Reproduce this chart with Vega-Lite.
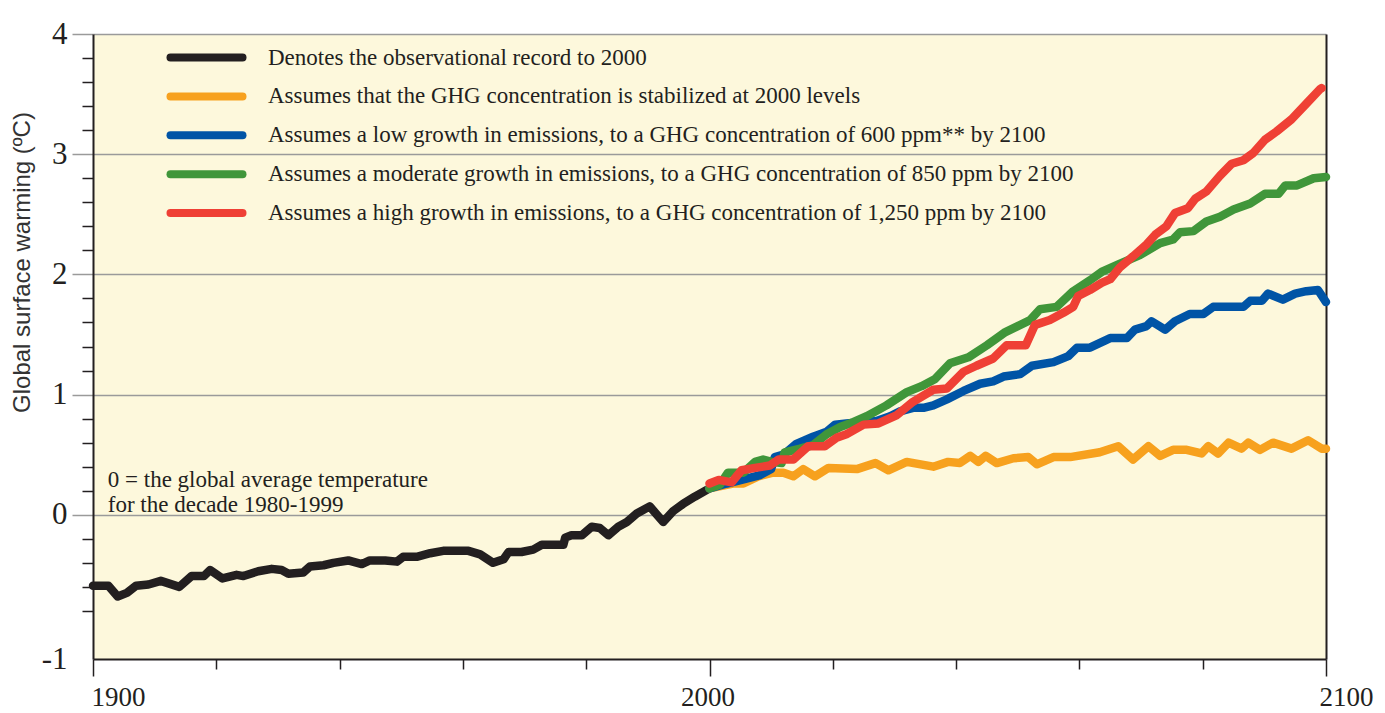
{
  "$schema": "https://vega.github.io/schema/vega-lite/v6.json",
  "width": 1233,
  "height": 625,
  "autosize": "none",
  "padding": {"left": 93, "top": 34, "right": 59, "bottom": 54},
  "background": "white",
  "config": {"view": {"fill": "#fdf8dc", "stroke": null}, "font": "Liberation Serif"},
  "datasets": {
    "labels": [
      {"s": "obs", "label": "Denotes the observational record to 2000"},
      {"s": "stab", "label": "Assumes that the GHG concentration is stabilized at 2000 levels"},
      {"s": "low", "label": "Assumes a low growth in emissions, to a GHG concentration of 600 ppm** by 2100"},
      {"s": "mod", "label": "Assumes a moderate growth in emissions, to a GHG concentration of 850 ppm by 2100"},
      {"s": "high", "label": "Assumes a high growth in emissions, to a GHG concentration of 1,250 ppm by 2100"}
    ],
    "notes": [
      {"note": "0 = the global average temperature", "year": 1902.4, "value": 0.235},
      {"note": "for the decade 1980-1999", "year": 1902.4, "value": 0.027}
    ],
    "warming": [
      {"s":"obs","year":1900,"value":-0.59},{"s":"obs","year":1902.5,"value":-0.59},{"s":"obs","year":1904,"value":-0.68},{"s":"obs","year":1905.5,"value":-0.65},{"s":"obs","year":1907,"value":-0.59},{"s":"obs","year":1909,"value":-0.58},{"s":"obs","year":1911,"value":-0.55},{"s":"obs","year":1914,"value":-0.6},{"s":"obs","year":1916,"value":-0.51},{"s":"obs","year":1918,"value":-0.51},{"s":"obs","year":1919,"value":-0.46},{"s":"obs","year":1921,"value":-0.53},{"s":"obs","year":1923.3,"value":-0.5},{"s":"obs","year":1924.4,"value":-0.51},{"s":"obs","year":1926.8,"value":-0.47},{"s":"obs","year":1929,"value":-0.45},{"s":"obs","year":1930.6,"value":-0.46},{"s":"obs","year":1931.7,"value":-0.49},{"s":"obs","year":1934.1,"value":-0.48},{"s":"obs","year":1935.2,"value":-0.43},{"s":"obs","year":1937.4,"value":-0.42},{"s":"obs","year":1939,"value":-0.4},{"s":"obs","year":1941.4,"value":-0.38},{"s":"obs","year":1943.6,"value":-0.41},{"s":"obs","year":1944.9,"value":-0.38},{"s":"obs","year":1947.4,"value":-0.38},{"s":"obs","year":1949.3,"value":-0.39},{"s":"obs","year":1950.3,"value":-0.35},{"s":"obs","year":1952.5,"value":-0.35},{"s":"obs","year":1954.7,"value":-0.32},{"s":"obs","year":1956.8,"value":-0.3},{"s":"obs","year":1960.9,"value":-0.3},{"s":"obs","year":1962.8,"value":-0.33},{"s":"obs","year":1964.9,"value":-0.4},{"s":"obs","year":1966.6,"value":-0.37},{"s":"obs","year":1967.4,"value":-0.31},{"s":"obs","year":1969.5,"value":-0.31},{"s":"obs","year":1971.4,"value":-0.29},{"s":"obs","year":1972.8,"value":-0.25},{"s":"obs","year":1976.3,"value":-0.25},{"s":"obs","year":1976.6,"value":-0.19},{"s":"obs","year":1977.6,"value":-0.17},{"s":"obs","year":1979.3,"value":-0.17},{"s":"obs","year":1980.9,"value":-0.1},{"s":"obs","year":1982.2,"value":-0.11},{"s":"obs","year":1983.6,"value":-0.17},{"s":"obs","year":1985.2,"value":-0.1},{"s":"obs","year":1986.6,"value":-0.06},{"s":"obs","year":1988.2,"value":0.01},{"s":"obs","year":1990.3,"value":0.07},{"s":"obs","year":1992.5,"value":-0.06},{"s":"obs","year":1994.1,"value":0.03},{"s":"obs","year":1995.7,"value":0.09},{"s":"obs","year":1997.6,"value":0.15},{"s":"obs","year":2000,"value":0.22},
      {"s":"stab","year":2000,"value":0.22},{"s":"stab","year":2003.8,"value":0.26},{"s":"stab","year":2005.5,"value":0.26},{"s":"stab","year":2007.9,"value":0.32},{"s":"stab","year":2010.3,"value":0.35},{"s":"stab","year":2012,"value":0.35},{"s":"stab","year":2013.6,"value":0.32},{"s":"stab","year":2015.2,"value":0.38},{"s":"stab","year":2017.1,"value":0.32},{"s":"stab","year":2019.3,"value":0.39},{"s":"stab","year":2023.9,"value":0.38},{"s":"stab","year":2026.9,"value":0.43},{"s":"stab","year":2029,"value":0.37},{"s":"stab","year":2032,"value":0.44},{"s":"stab","year":2036.3,"value":0.4},{"s":"stab","year":2038.7,"value":0.44},{"s":"stab","year":2040.6,"value":0.43},{"s":"stab","year":2042.3,"value":0.49},{"s":"stab","year":2043.6,"value":0.44},{"s":"stab","year":2044.8,"value":0.49},{"s":"stab","year":2046.6,"value":0.43},{"s":"stab","year":2049.3,"value":0.47},{"s":"stab","year":2051.7,"value":0.48},{"s":"stab","year":2053.1,"value":0.42},{"s":"stab","year":2055.8,"value":0.48},{"s":"stab","year":2058.5,"value":0.48},{"s":"stab","year":2063.3,"value":0.52},{"s":"stab","year":2066.3,"value":0.57},{"s":"stab","year":2068.7,"value":0.46},{"s":"stab","year":2071.2,"value":0.57},{"s":"stab","year":2073.1,"value":0.49},{"s":"stab","year":2075.2,"value":0.54},{"s":"stab","year":2077.4,"value":0.54},{"s":"stab","year":2079.8,"value":0.51},{"s":"stab","year":2080.9,"value":0.57},{"s":"stab","year":2082.5,"value":0.51},{"s":"stab","year":2084.2,"value":0.6},{"s":"stab","year":2086.3,"value":0.55},{"s":"stab","year":2087.4,"value":0.6},{"s":"stab","year":2089.3,"value":0.54},{"s":"stab","year":2091.4,"value":0.6},{"s":"stab","year":2094.4,"value":0.55},{"s":"stab","year":2097.1,"value":0.62},{"s":"stab","year":2099.3,"value":0.55},{"s":"stab","year":2100,"value":0.55},
      {"s":"low","year":2000,"value":0.22},{"s":"low","year":2002.8,"value":0.26},{"s":"low","year":2006,"value":0.3},{"s":"low","year":2008.2,"value":0.33},{"s":"low","year":2010,"value":0.38},{"s":"low","year":2010.6,"value":0.48},{"s":"low","year":2012,"value":0.5},{"s":"low","year":2014.1,"value":0.59},{"s":"low","year":2016.8,"value":0.65},{"s":"low","year":2019,"value":0.69},{"s":"low","year":2020.4,"value":0.75},{"s":"low","year":2022.2,"value":0.76},{"s":"low","year":2024.4,"value":0.77},{"s":"low","year":2027.1,"value":0.78},{"s":"low","year":2029.3,"value":0.82},{"s":"low","year":2030.9,"value":0.86},{"s":"low","year":2033,"value":0.89},{"s":"low","year":2034.7,"value":0.89},{"s":"low","year":2036.3,"value":0.91},{"s":"low","year":2038.5,"value":0.96},{"s":"low","year":2041.2,"value":1.03},{"s":"low","year":2043.9,"value":1.09},{"s":"low","year":2046,"value":1.11},{"s":"low","year":2047.7,"value":1.15},{"s":"low","year":2050.4,"value":1.17},{"s":"low","year":2052.3,"value":1.24},{"s":"low","year":2055.8,"value":1.27},{"s":"low","year":2058.2,"value":1.32},{"s":"low","year":2059.6,"value":1.39},{"s":"low","year":2061.7,"value":1.39},{"s":"low","year":2065,"value":1.47},{"s":"low","year":2067.7,"value":1.47},{"s":"low","year":2069,"value":1.54},{"s":"low","year":2070.9,"value":1.57},{"s":"low","year":2071.7,"value":1.61},{"s":"low","year":2073.9,"value":1.54},{"s":"low","year":2075.5,"value":1.61},{"s":"low","year":2077.9,"value":1.67},{"s":"low","year":2080.1,"value":1.67},{"s":"low","year":2081.7,"value":1.73},{"s":"low","year":2086.6,"value":1.73},{"s":"low","year":2087.7,"value":1.78},{"s":"low","year":2089.6,"value":1.78},{"s":"low","year":2090.6,"value":1.84},{"s":"low","year":2093,"value":1.79},{"s":"low","year":2095,"value":1.84},{"s":"low","year":2096.8,"value":1.86},{"s":"low","year":2098.7,"value":1.87},{"s":"low","year":2100,"value":1.77},
      {"s":"mod","year":2000,"value":0.22},{"s":"mod","year":2001.7,"value":0.25},{"s":"mod","year":2003,"value":0.35},{"s":"mod","year":2005.5,"value":0.35},{"s":"mod","year":2007.4,"value":0.44},{"s":"mod","year":2008.7,"value":0.46},{"s":"mod","year":2010.1,"value":0.44},{"s":"mod","year":2011.7,"value":0.43},{"s":"mod","year":2012.2,"value":0.52},{"s":"mod","year":2014.7,"value":0.55},{"s":"mod","year":2016.8,"value":0.58},{"s":"mod","year":2019,"value":0.67},{"s":"mod","year":2021.2,"value":0.73},{"s":"mod","year":2023.3,"value":0.77},{"s":"mod","year":2025.5,"value":0.82},{"s":"mod","year":2028.7,"value":0.91},{"s":"mod","year":2032,"value":1.02},{"s":"mod","year":2034.4,"value":1.07},{"s":"mod","year":2036.6,"value":1.13},{"s":"mod","year":2039,"value":1.26},{"s":"mod","year":2042,"value":1.31},{"s":"mod","year":2045,"value":1.41},{"s":"mod","year":2048,"value":1.52},{"s":"mod","year":2050,"value":1.57},{"s":"mod","year":2052,"value":1.62},{"s":"mod","year":2053.6,"value":1.71},{"s":"mod","year":2056.3,"value":1.73},{"s":"mod","year":2059,"value":1.86},{"s":"mod","year":2061.7,"value":1.95},{"s":"mod","year":2063.6,"value":2.02},{"s":"mod","year":2066.6,"value":2.09},{"s":"mod","year":2069.8,"value":2.16},{"s":"mod","year":2073.1,"value":2.26},{"s":"mod","year":2075.2,"value":2.29},{"s":"mod","year":2076.3,"value":2.35},{"s":"mod","year":2078.5,"value":2.36},{"s":"mod","year":2080.6,"value":2.44},{"s":"mod","year":2082.8,"value":2.48},{"s":"mod","year":2085,"value":2.54},{"s":"mod","year":2087.7,"value":2.59},{"s":"mod","year":2090.1,"value":2.67},{"s":"mod","year":2092.3,"value":2.67},{"s":"mod","year":2093.4,"value":2.74},{"s":"mod","year":2095.3,"value":2.74},{"s":"mod","year":2098,"value":2.8},{"s":"mod","year":2100,"value":2.81},
      {"s":"high","year":2000,"value":0.26},{"s":"high","year":2001.5,"value":0.29},{"s":"high","year":2003.6,"value":0.27},{"s":"high","year":2005.2,"value":0.37},{"s":"high","year":2007.4,"value":0.39},{"s":"high","year":2009.8,"value":0.41},{"s":"high","year":2011.2,"value":0.46},{"s":"high","year":2013.6,"value":0.46},{"s":"high","year":2016,"value":0.57},{"s":"high","year":2018.7,"value":0.57},{"s":"high","year":2020.6,"value":0.64},{"s":"high","year":2022.2,"value":0.67},{"s":"high","year":2025,"value":0.75},{"s":"high","year":2027.4,"value":0.76},{"s":"high","year":2030.4,"value":0.83},{"s":"high","year":2033,"value":0.94},{"s":"high","year":2036.3,"value":1.04},{"s":"high","year":2038.5,"value":1.05},{"s":"high","year":2041.2,"value":1.19},{"s":"high","year":2043.3,"value":1.24},{"s":"high","year":2046,"value":1.3},{"s":"high","year":2048.2,"value":1.41},{"s":"high","year":2051.3,"value":1.41},{"s":"high","year":2052.8,"value":1.58},{"s":"high","year":2055.2,"value":1.62},{"s":"high","year":2057.4,"value":1.68},{"s":"high","year":2059,"value":1.73},{"s":"high","year":2059.8,"value":1.82},{"s":"high","year":2061.7,"value":1.87},{"s":"high","year":2063.6,"value":1.93},{"s":"high","year":2065,"value":1.96},{"s":"high","year":2066.6,"value":2.06},{"s":"high","year":2068.7,"value":2.15},{"s":"high","year":2070.9,"value":2.25},{"s":"high","year":2072.3,"value":2.33},{"s":"high","year":2074.1,"value":2.4},{"s":"high","year":2075.5,"value":2.51},{"s":"high","year":2077.6,"value":2.55},{"s":"high","year":2078.8,"value":2.63},{"s":"high","year":2080.6,"value":2.69},{"s":"high","year":2082.8,"value":2.82},{"s":"high","year":2084.7,"value":2.92},{"s":"high","year":2086.6,"value":2.95},{"s":"high","year":2088.2,"value":3.01},{"s":"high","year":2090.1,"value":3.12},{"s":"high","year":2092,"value":3.19},{"s":"high","year":2094.4,"value":3.29},{"s":"high","year":2096.8,"value":3.42},{"s":"high","year":2099,"value":3.54},{"s":"high","year":2099.3,"value":3.55}
    ]
  },
  "layer": [
    {
      "data": {"name": "warming"},
      "transform": [{"lookup": "s", "from": {"data": {"name": "labels"}, "key": "s", "fields": ["label"]}}],
      "mark": {"type": "line", "strokeWidth": 8.5, "strokeCap": "round", "strokeJoin": "round"},
      "encoding": {
        "x": {
          "field": "year", "type": "quantitative",
          "scale": {"domain": [1900, 2100], "nice": false, "zero": false},
          "axis": {
            "orient": "bottom", "values": [1900, 2000, 2100], "title": null, "grid": false,
            "tickSize": 17, "tickColor": "#231f20", "tickWidth": 1.5,
            "domainColor": "#231f20", "domainWidth": 2,
            "labelFont": "Liberation Serif", "labelFontSize": 27, "labelColor": "#231f20",
            "labelPadding": 8, "labelFlush": false,
            "labelAlign": {"condition": {"test": "datum.value == 2000", "value": "center"}, "value": "left"},
            "labelOffset": {"condition": {"test": "datum.value == 2100", "value": -7}, "value": -2},
            "labelExpr": "format(datum.value, 'd')"
          }
        },
        "y": {
          "field": "value", "type": "quantitative",
          "scale": {"domain": [-1.2, 4], "nice": false, "zero": false},
          "axis": {
            "orient": "left", "values": [-1.2, 0, 1, 2, 3, 4],
            "title": "Global surface warming (ºC)",
            "titleFont": "Liberation Sans", "titleFontSize": 24, "titleFontWeight": "normal", "titleColor": "#333333",
            "titleX": -71, "titleY": 228, "titleAngle": -90, "titleAlign": "center", "titleBaseline": "middle",
            "grid": true, "gridColor": "#9a9a9a", "gridWidth": 1.5,
            "gridOpacity": {"condition": {"test": "datum.value < -1", "value": 0}, "value": 1},
            "tickSize": 21, "tickColor": "#9a9a9a", "tickWidth": 1.5,
            "tickOpacity": {"condition": {"test": "datum.value < -1", "value": 0}, "value": 1},
            "domain": false,
            "labelFont": "Liberation Serif", "labelFontSize": 31, "labelColor": "#231f20", "labelPadding": 5,
            "labelExpr": "datum.value < -1 ? '-1' : format(datum.value, 'd')"
          }
        },
        "color": {
          "field": "label", "type": "nominal",
          "scale": {
            "domain": [
              "Denotes the observational record to 2000",
              "Assumes that the GHG concentration is stabilized at 2000 levels",
              "Assumes a low growth in emissions, to a GHG concentration of 600 ppm** by 2100",
              "Assumes a moderate growth in emissions, to a GHG concentration of 850 ppm by 2100",
              "Assumes a high growth in emissions, to a GHG concentration of 1,250 ppm by 2100"
            ],
            "range": ["#231f20", "#f7a11e", "#0054a6", "#40963a", "#ef4035"]
          },
          "legend": {
            "title": null, "orient": "none", "legendX": 102, "legendY": 12, "padding": 0,
            "symbolType": "M-7.2,0H7.2", "symbolSize": 100, "symbolStrokeWidth": 8,
            "labelFont": "Liberation Serif", "labelFontSize": 23, "labelColor": "#231f20",
            "labelOffset": 50, "labelLimit": 1200, "rowPadding": 5.9,
            "encode": {"symbols": {"update": {"strokeCap": {"value": "round"}}}}
          }
        }
      }
    },
    {
      "data": {"name": "notes"},
      "transform": [{"filter": "datum.value > 0.1"}],
      "mark": {"type": "text", "align": "left", "baseline": "alphabetic", "fontSize": 23, "font": "Liberation Serif", "color": "#231f20"},
      "encoding": {
        "x": {
          "field": "year", "type": "quantitative",
          "scale": {"domain": [1900, 2100], "nice": false, "zero": false},
          "axis": {"orient": "bottom", "values": [1920, 1940, 1960, 1980, 2020, 2040, 2060, 2080], "title": null, "labels": false, "grid": false, "tickSize": 10, "tickColor": "#231f20", "tickWidth": 1.5, "domain": false}
        },
        "y": {
          "field": "value", "type": "quantitative",
          "scale": {"domain": [-1.2, 4], "nice": false, "zero": false},
          "axis": {"orient": "left", "values": [-0.8, -0.6, -0.4, -0.2, 0.2, 0.4, 0.6, 0.8, 1.2, 1.4, 1.6, 1.8, 2.2, 2.4, 2.6, 2.8, 3.2, 3.4, 3.6, 3.8], "title": null, "labels": false, "grid": false, "tickSize": 11, "tickColor": "#231f20", "tickWidth": 1.5, "domain": true, "domainColor": "#231f20", "domainWidth": 2}
        },
        "text": {"field": "note"}
      }
    },
    {
      "data": {"name": "notes"},
      "transform": [{"filter": "datum.value <= 0.1"}],
      "mark": {"type": "text", "align": "left", "baseline": "alphabetic", "fontSize": 23, "font": "Liberation Serif", "color": "#231f20"},
      "encoding": {
        "x": {
          "field": "year", "type": "quantitative",
          "scale": {"domain": [1900, 2100], "nice": false, "zero": false},
          "axis": null
        },
        "y": {
          "field": "value", "type": "quantitative",
          "scale": {"domain": [-1.2, 4], "nice": false, "zero": false},
          "axis": {"orient": "right", "title": null, "labels": false, "ticks": false, "grid": false, "domain": true, "domainColor": "#231f20", "domainWidth": 2}
        },
        "text": {"field": "note"}
      }
    }
  ],
  "resolve": {"axis": {"x": "independent", "y": "independent"}}
}
